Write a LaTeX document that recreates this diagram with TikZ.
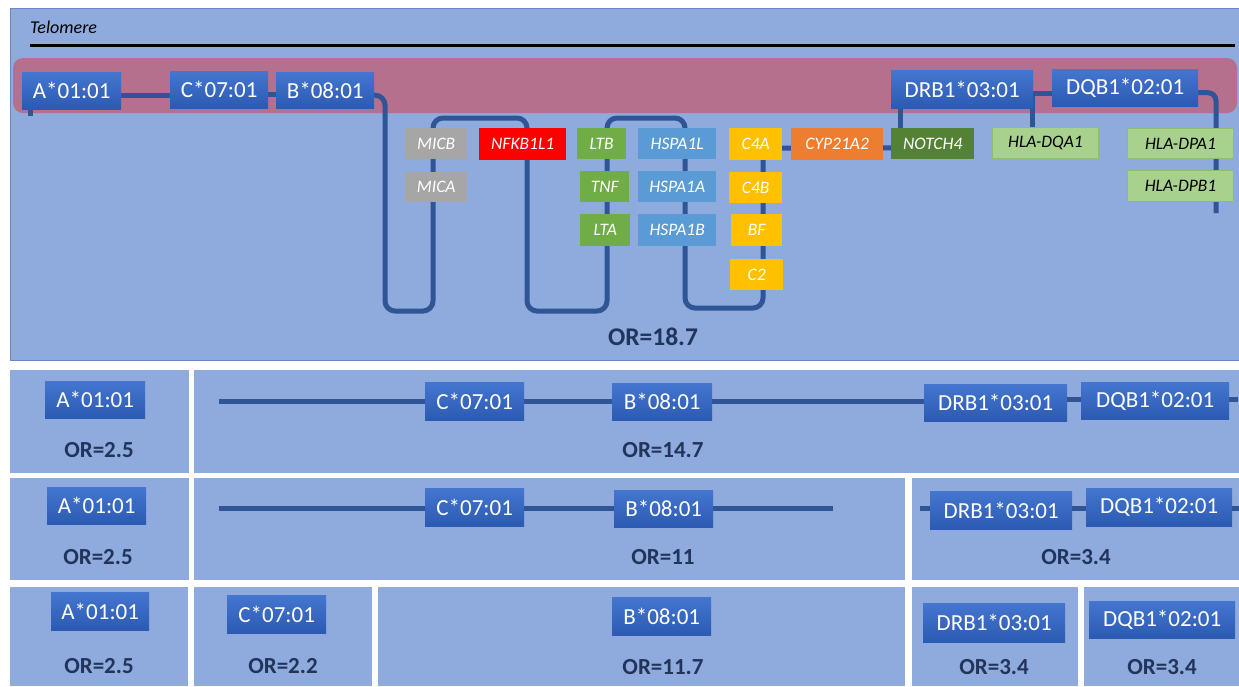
\documentclass[tikz,border=0pt]{standalone}
\usepackage{fontspec}
\setmainfont{Carlito}
\usetikzlibrary{calc}
\definecolor{panel}{RGB}{143,170,220}
\definecolor{paneledge}{RGB}{105,135,195}
\definecolor{band}{RGB}{181,112,142}
\definecolor{chainc}{RGB}{47,85,151}
\definecolor{ortext}{RGB}{32,52,92}
\definecolor{genegray}{RGB}{166,166,166}
\definecolor{genered}{RGB}{255,0,0}
\definecolor{genegreen}{RGB}{112,173,71}
\definecolor{geneblue}{RGB}{91,155,213}
\definecolor{genegold}{RGB}{255,192,0}
\definecolor{geneorange}{RGB}{237,125,49}
\definecolor{genedkgreen}{RGB}{84,130,53}
\definecolor{geneltgreen}{RGB}{169,209,142}
\definecolor{ltgreenedge}{RGB}{140,190,110}
\pgfdeclarelayer{back}
\pgfdeclarelayer{lines}
\pgfsetlayers{back,lines,main}
\newcommand\mkbox[7]{%
  \pgfmathsetmacro\bxw{#5-#3}\pgfmathsetmacro\bxh{#6-#4}%
  \node[#1,anchor=north west,minimum width=\bxw pt,minimum height=\bxh pt] (#2) at (#3,#4) {#7};}
\tikzset{
  allele/.style={inner sep=0pt, top color={rgb,255:red,68;green,118;blue,208}, bottom color={rgb,255:red,44;green,90;blue,178}, text=white, font=\fontsize{23}{23}\selectfont},
  gene/.style={inner sep=0pt, text=white, font=\fontsize{17.5}{17.5}\selectfont\itshape},
  ggray/.style={gene, fill=genegray},
  gred/.style={gene, fill=genered},
  ggreen/.style={gene, fill=genegreen},
  gblue/.style={gene, fill=geneblue},
  ggold/.style={gene, fill=genegold},
  gorange/.style={gene, fill=geneorange},
  gdkgreen/.style={gene, fill=genedkgreen},
  gltgreen/.style={gene, fill=geneltgreen, draw=ltgreenedge, line width=1pt, text=black},
  chain/.style={draw=chainc, line width=5pt},
  ortxt/.style={text=ortext, font=\fontsize{23}{23}\selectfont\bfseries, inner sep=0pt},
  panelbox/.style={fill=panel},
}
\begin{document}
\begin{tikzpicture}[x=1pt,y=-1pt]
\useasboundingbox (0,0) rectangle (1239,686);
\begin{pgfonlayer}{back}
\fill[white] (0,0) rectangle (1239,686);
% top panel
\filldraw[panelbox, draw=paneledge, line width=1pt] (10,8.5) rectangle (1240,360);
% lower panels
\fill[panelbox] (10,370) rectangle (189,473);
\fill[panelbox] (194,370) rectangle (1239,473);
\fill[panelbox] (10,478) rectangle (189,580);
\fill[panelbox] (194,478) rectangle (905,580);
\fill[panelbox] (912,478) rectangle (1239,580);
\fill[panelbox] (10,587) rectangle (188,686);
\fill[panelbox] (194,587) rectangle (372,686);
\fill[panelbox] (378,587) rectangle (905,686);
\fill[panelbox] (912,587) rectangle (1078,686);
\fill[panelbox] (1084,587) rectangle (1239,686);
% pink band
\fill[band, rounded corners=10pt] (13,58) rectangle (1237,113);
\end{pgfonlayer}

% telomere
\node[anchor=west, inner sep=0pt, font=\fontsize{18}{18}\selectfont\itshape] (telo) at (30,27) {Telomere};
\coordinate (tl1) at (30,45);
\coordinate (tl2) at (1235,45);
\draw[line width=3pt, black] (tl1) -- (tl2);

% top alleles
\mkbox{allele}{tA}{22}{72}{121}{109}{A*01:01}
\mkbox{allele}{tC}{170}{71}{268}{108}{C*07:01}
\mkbox{allele}{tB}{276}{72}{374}{108}{B*08:01}
\mkbox{allele}{tD}{891}{70}{1033}{108}{DRB1*03:01}
\mkbox{allele}{tQ}{1052}{69}{1198}{106}{DQB1*02:01}

% genes
\mkbox{ggray}{MICB}{405}{128}{467}{159}{MICB}
\mkbox{ggray}{MICA}{405}{172}{467}{202}{MICA}
\mkbox{gred}{NFKB}{479}{128}{566}{160}{NFKB1L1}
\mkbox{ggreen}{LTB}{577}{128}{626}{159}{LTB}
\mkbox{ggreen}{TNF}{580}{171}{629}{202}{TNF}
\mkbox{ggreen}{LTA}{580}{214}{630}{246}{LTA}
\mkbox{gblue}{HSL}{638}{128}{716}{159}{HSPA1L}
\mkbox{gblue}{HSA}{638}{171}{716}{202}{HSPA1A}
\mkbox{gblue}{HSB}{638}{214}{716}{246}{HSPA1B}
\mkbox{ggold}{C4A}{729}{128}{782}{160}{C4A}
\mkbox{ggold}{C4B}{729}{172}{782}{203}{C4B}
\mkbox{ggold}{BF}{731}{214}{782}{246}{BF}
\mkbox{ggold}{gC2}{730}{259}{783}{290}{C2}
\mkbox{gorange}{CYP}{791}{128}{883}{160}{CYP21A2}
\mkbox{gdkgreen}{NOTCH}{891}{128}{974}{159}{NOTCH4}
\mkbox{gltgreen}{DQA}{992}{127}{1098}{158}{HLA-DQA1}
\mkbox{gltgreen}{DPA}{1127}{128}{1233}{158}{HLA-DPA1}
\mkbox{gltgreen}{DPB}{1127}{170}{1233}{201}{HLA-DPB1}

\node[ortxt, font=\fontsize{25.5}{25.5}\selectfont\bfseries] (or0) at (653,337) {OR=18.7};

% top chain
\coordinate (astub) at (30,116);
\coordinate (w1) at (385,311);
\coordinate (w2) at (433,118);
\coordinate (w3) at (527,311);
\coordinate (w4) at (607,118);
\coordinate (w5) at (685,308);
\coordinate (w6) at (763,150);
\coordinate (dpend) at (1216,213);
\begin{pgfonlayer}{lines}
\draw[chain] (astub |- tA.center) -- (astub);
\draw[chain] ([yshift=-5pt]tA.center) -- ([yshift=-5pt]tA.center -| tC.center);
\draw[chain] ([yshift=-5pt]tC.center) -- ([yshift=-5pt]tC.center -| tB.center);
\draw[chain, rounded corners=10pt] ([yshift=-5pt]tB.center) -| (w1) -| (w2) -| (w3) -| (w4) -| (w5) -| (w6);
\draw[chain] ([yshift=-4pt]C4A.center) -- ([yshift=-4pt]NOTCH.center);
\draw[chain] ([xshift=9pt]NOTCH.north west) |- (tD.center);
\draw[chain] ([yshift=-4pt]tD.center) -- ([yshift=-4pt]tD.center -| tQ.center);
\draw[chain] ([xshift=40pt]DQA.north west) |- ([yshift=-4pt]tD.center);
\draw[chain, rounded corners=8pt] ([yshift=-5pt]tQ.center) -| (dpend);
\end{pgfonlayer}

% ---------- row 1
\mkbox{allele}{a1}{45}{381}{145}{418}{A*01:01}
\node[ortxt] (or11) at (99,450) {OR=2.5};
\mkbox{allele}{c1}{425}{382}{524}{420}{C*07:01}
\mkbox{allele}{b1}{612}{383}{712}{420}{B*08:01}
\mkbox{allele}{d1}{924}{384}{1067}{421}{DRB1*03:01}
\mkbox{allele}{q1}{1081}{382}{1229}{419}{DQB1*02:01}
\node[ortxt] (or12) at (663,450) {OR=14.7};
\coordinate (r1s) at (219,401);
\coordinate (r1e) at (1238,399);
\begin{pgfonlayer}{lines}
\draw[chain] (r1s) -- (r1s -| c1.center) -- (r1s -| b1.center) -- (r1s -| d1.center);
\draw[chain] (r1e -| d1.center) -- (r1e -| q1.center) -- (r1e);
\end{pgfonlayer}

% ---------- row 2
\mkbox{allele}{a2}{47}{487}{146}{524}{A*01:01}
\node[ortxt] (or21) at (98,557) {OR=2.5};
\mkbox{allele}{c2}{425}{488}{524}{526}{C*07:01}
\mkbox{allele}{b2}{614}{490}{713}{527}{B*08:01}
\node[ortxt] (or22) at (663,557) {OR=11};
\coordinate (r2s) at (219,508);
\coordinate (r2e) at (833,508);
\mkbox{allele}{d2}{930}{491}{1072}{529}{DRB1*03:01}
\mkbox{allele}{q2}{1086}{488}{1232}{526}{DQB1*02:01}
\node[ortxt] (or23) at (1076,557) {OR=3.4};
\coordinate (r2t) at (920,508);
\coordinate (r2u) at (1239,508);
\begin{pgfonlayer}{lines}
\draw[chain] (r2s) -- (r2s -| c2.center) -- (r2s -| b2.center) -- (r2e);
\draw[chain] (r2t) -- (r2t -| d2.center) -- (r2t -| q2.center) -- (r2u);
\end{pgfonlayer}

% ---------- row 3
\mkbox{allele}{a3}{51}{592}{149}{630}{A*01:01}
\node[ortxt] (or31) at (99,666) {OR=2.5};
\mkbox{allele}{c3}{227}{595}{326}{633}{C*07:01}
\node[ortxt] (or32) at (283,666) {OR=2.2};
\mkbox{allele}{b3}{612}{597}{711}{635}{B*08:01}
\node[ortxt] (or33) at (663,667) {OR=11.7};
\mkbox{allele}{d3}{923}{603}{1065}{642}{DRB1*03:01}
\node[ortxt] (or34) at (994,667) {OR=3.4};
\mkbox{allele}{q3}{1089}{601}{1235}{638}{DQB1*02:01}
\node[ortxt] (or35) at (1162,667) {OR=3.4};
\end{tikzpicture}
\end{document}
